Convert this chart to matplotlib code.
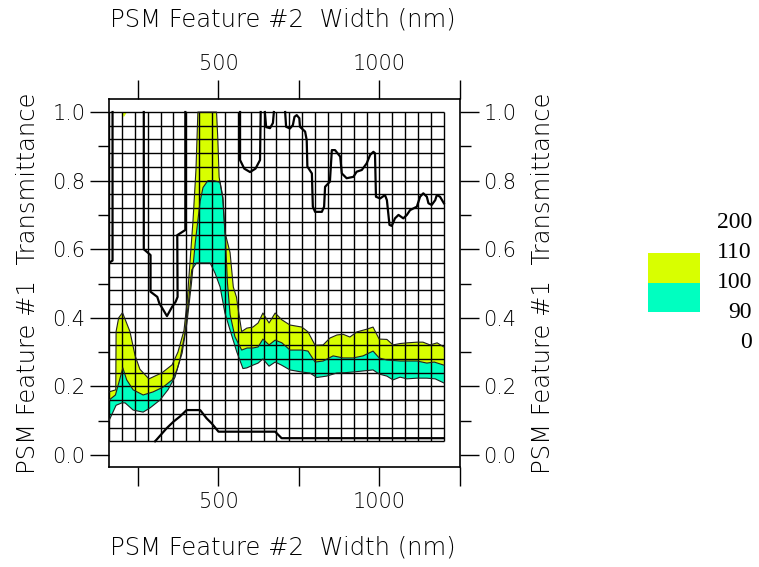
import matplotlib
matplotlib.use("Agg")
import matplotlib.pyplot as plt
import numpy as np
from matplotlib.patches import Polygon, Rectangle

# calculation mesh: feature #2 width (nm) x feature #1 transmittance
width_nodes = np.arange(160, 1201, 40)
trans_nodes = np.linspace(0.04, 1.0, 25)

# contour 110 (upper edge of the 100..110 band)
c110_w = [160, 181, 182, 190, 202, 225, 241, 256, 284, 325, 356, 374, 393, 403,
          412, 421, 430, 436, 494, 498, 502, 513, 520, 536, 546, 556, 562, 572,
          588, 607, 623, 638, 657, 676, 697, 722, 759, 778, 800, 825, 846, 868,
          887, 908, 930, 961, 980, 999, 1023, 1042, 1064, 1086, 1117, 1135,
          1157, 1179, 1200]
c110_t = [0.184, 0.19, 0.36, 0.40, 0.415, 0.36, 0.29, 0.25, 0.222, 0.24, 0.263,
          0.30, 0.364, 0.452, 0.569, 0.685, 0.831, 1.0, 1.0, 0.92, 0.81, 0.75,
          0.65, 0.59, 0.49, 0.46, 0.42, 0.36, 0.37, 0.373, 0.385, 0.414, 0.385,
          0.414, 0.394, 0.379, 0.373, 0.359, 0.32, 0.321, 0.341, 0.35, 0.352,
          0.344, 0.359, 0.367, 0.373, 0.338, 0.337, 0.321, 0.325, 0.327, 0.329,
          0.329, 0.321, 0.327, 0.315]

# contour 100 (between the two bands)
c100_w = [160, 180, 203, 215, 235, 266, 297, 328, 356, 371, 387, 402, 416, 428,
          443, 452, 467, 486, 505, 514, 522, 528, 536, 551, 572, 589, 607, 623,
          638, 657, 676, 697, 722, 759, 778, 800, 825, 856, 887, 918, 949, 980,
          999, 1023, 1064, 1117, 1147, 1170, 1200]
c100_t = [0.16, 0.175, 0.254, 0.219, 0.19, 0.175, 0.184, 0.198, 0.219, 0.248,
          0.297, 0.385, 0.50, 0.62, 0.74, 0.78, 0.80, 0.80, 0.795, 0.75, 0.62,
          0.50, 0.41, 0.345, 0.306, 0.312, 0.312, 0.315, 0.338, 0.321, 0.335,
          0.327, 0.306, 0.306, 0.303, 0.271, 0.274, 0.289, 0.283, 0.283, 0.289,
          0.303, 0.283, 0.277, 0.274, 0.274, 0.268, 0.271, 0.262]

# contour 90 (lower edge of the 90..100 band)
c90_w = [160, 182, 200, 210, 235, 266, 287, 318, 343, 365, 380, 396, 405, 417,
         432, 474, 489, 505, 520, 536, 557, 576, 588, 607, 623, 638, 657, 676,
         696, 722, 758, 784, 805, 836, 867, 893, 918, 949, 980, 999, 1023, 1042,
         1064, 1085, 1116, 1147, 1173, 1200]
c90_t = [0.10, 0.145, 0.152, 0.152, 0.131, 0.125, 0.137, 0.16, 0.19, 0.227,
         0.277, 0.356, 0.43, 0.54, 0.56, 0.56, 0.531, 0.49, 0.414, 0.364, 0.30,
         0.252, 0.254, 0.262, 0.268, 0.28, 0.259, 0.271, 0.262, 0.248, 0.242,
         0.239, 0.226, 0.23, 0.239, 0.24, 0.242, 0.245, 0.248, 0.236, 0.23,
         0.219, 0.227, 0.222, 0.224, 0.224, 0.222, 0.21]

# contour 200 (several pieces)
c200 = [
    ([160, 171, 171], [0.56, 0.567, 1.0]),
    ([268, 268, 289, 289, 310, 316, 340, 356, 367, 373, 372, 397, 397],
     [1.0, 0.60, 0.583, 0.476, 0.461, 0.443, 0.405, 0.432, 0.447, 0.461,
      0.641, 0.656, 1.0]),
    ([567, 567, 580, 598, 615, 629, 631],
     [1.0, 0.86, 0.835, 0.825, 0.835, 0.86, 1.0]),
    ([644, 648, 660, 669, 672], [1.0, 0.956, 0.953, 0.968, 1.0]),
    ([707, 710, 722, 731, 736, 743, 751, 753, 769, 774, 776, 790, 793, 800,
      821, 828, 831, 846, 852, 862, 878, 883, 898, 919, 929, 945, 960, 971,
      981, 986, 989, 1002, 1017, 1023, 1031, 1038, 1048, 1059, 1074, 1085,
      1095, 1116, 1126, 1136, 1147, 1152, 1162, 1173, 1178, 1188, 1200],
     [1.0, 0.957, 0.952, 0.962, 0.986, 0.991, 0.982, 0.957, 0.943, 0.918,
      0.841, 0.821, 0.724, 0.709, 0.709, 0.724, 0.782, 0.797, 0.889, 0.889,
      0.87, 0.821, 0.807, 0.811, 0.826, 0.831, 0.85, 0.875, 0.884, 0.88,
      0.753, 0.748, 0.758, 0.743, 0.671, 0.668, 0.69, 0.70, 0.69, 0.70,
      0.714, 0.724, 0.753, 0.763, 0.753, 0.734, 0.729, 0.743, 0.758, 0.753,
      0.734]),
]

# contour 0
c0_w = [303, 308, 339, 360, 380, 401, 443, 463, 479, 500, 676, 696, 1200]
c0_t = [0.04, 0.045, 0.078, 0.097, 0.112, 0.131, 0.131, 0.107, 0.092, 0.068,
        0.068, 0.049, 0.049]

# small 100..110 patch at the top
patch_w = [200, 216, 206]
patch_t = [1.0, 1.0, 0.985]

levels = [0, 90, 100, 110, 200]
band_colors = ["#00ffc0", "#d8ff00"]

FONT = "DejaVu Sans"
WEIGHT = "light"

fig = plt.figure(figsize=(7.59, 5.67), dpi=100)
ax = fig.add_axes([109 / 759, 1 - 467 / 567, 351 / 759, 368 / 567])
ax.set_xlim(160, 1250)
ax.set_ylim(-0.035, 1.038)

# filled bands
yellow = np.column_stack([c110_w + c100_w[::-1], c110_t + c100_t[::-1]])
cyan = np.column_stack([c100_w + c90_w[::-1], c100_t + c90_t[::-1]])
ax.add_patch(Polygon(cyan, closed=True, fc=band_colors[0], ec="none", zorder=1))
ax.add_patch(Polygon(yellow, closed=True, fc=band_colors[1], ec="none", zorder=1))
ax.add_patch(Polygon(np.column_stack([patch_w, patch_t]), closed=True,
                     fc=band_colors[1], ec="none", zorder=1))

# mesh
ax.vlines(width_nodes, trans_nodes[0], trans_nodes[-1], colors="black",
          lw=1.0, zorder=2)
ax.hlines(trans_nodes, width_nodes[0], width_nodes[-1], colors="black",
          lw=1.0, zorder=2)

# contour lines
for w, t in [(c110_w, c110_t), (c100_w, c100_t), (c90_w, c90_t)]:
    ax.plot(w, t, color="#202020", lw=0.8, zorder=3)
for w, t in c200:
    ax.plot(w, t, color="black", lw=1.6, zorder=3)
ax.plot(c0_w, c0_t, color="black", lw=1.6, zorder=3)

# axes styling
for s in ax.spines.values():
    s.set_linewidth(1.2)
ax.set_xticks([250, 500, 750, 1000, 1250])
ax.set_xticklabels(["", "500", "", "1000", ""])
ax.set_yticks(np.arange(0, 1.01, 0.2))
ax.set_yticklabels([f"{v:.1f}" for v in np.arange(0, 1.01, 0.2)])
ax.set_yticks(np.arange(0, 1.01, 0.1), minor=True)
ax.tick_params(axis="x", which="major", direction="out", length=14, width=1,
               top=True, labeltop=True, labelsize=15, pad=4)
ax.tick_params(axis="y", which="major", direction="out", length=14, width=1,
               right=True, labelright=True, labelsize=15, pad=3)
ax.tick_params(axis="y", which="minor", direction="out", length=8, width=1,
               right=True)
for lab in ax.get_xticklabels() + ax.get_yticklabels():
    lab.set_family(FONT)
    lab.set_weight(WEIGHT)

xlabel = "PSM Feature #2  Width (nm)"
ylabel = "PSM Feature #1  Transmittance"
fig.text(283 / 759, 1 - 20 / 567, xlabel, ha="center", va="center",
         fontsize=17.5, family=FONT, weight=WEIGHT)
fig.text(283 / 759, 1 - 548 / 567, xlabel, ha="center", va="center",
         fontsize=17.5, family=FONT, weight=WEIGHT)
fig.text(28 / 759, 1 - 283 / 567, ylabel, ha="center", va="center",
         rotation=90, fontsize=17.5, family=FONT, weight=WEIGHT)
fig.text(543 / 759, 1 - 283 / 567, ylabel, ha="center", va="center",
         rotation=90, fontsize=17.5, family=FONT, weight=WEIGHT)

# level key
key = fig.add_axes([640 / 759, 1 - 342 / 567, 119 / 759, 119 / 567])
key.set_xlim(0, 119)
key.set_ylim(0, len(levels) - 1)
key.axis("off")
for i, c in enumerate(band_colors):
    key.add_patch(Rectangle((8, i + 1), 52, 1, fc=c, ec="none"))
for i, lv in enumerate(levels):
    key.text(112, i, str(lv), ha="right", va="center", fontsize=17,
             family="Liberation Serif")

fig.savefig("out.png", dpi=100)
